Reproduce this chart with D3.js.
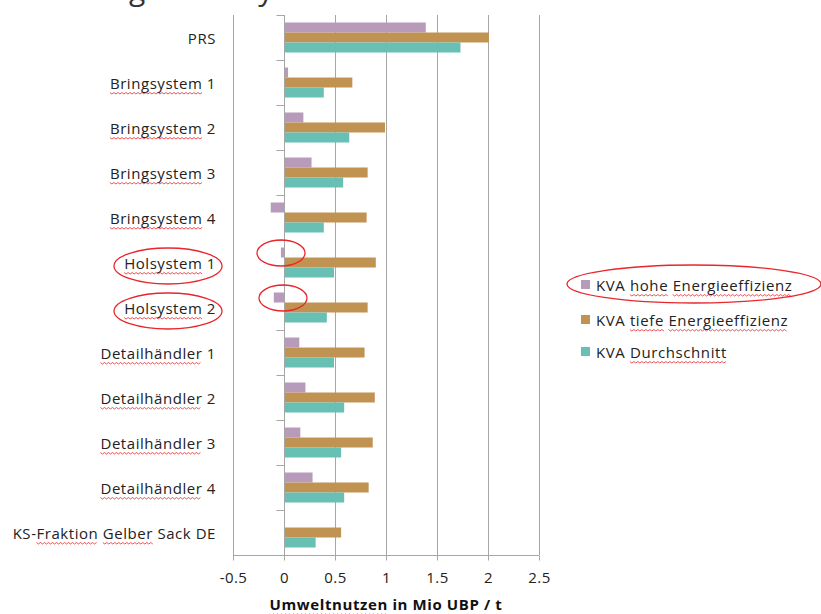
<!DOCTYPE html>
<html>
<head>
<meta charset="utf-8">
<script src="https://cdn.jsdelivr.net/npm/d3@7"></script>
<style>
  html, body { margin: 0; padding: 0; background: #fff; }
  svg { display: block; }
  text { font-family: "Open Sans", "Lato", sans-serif; }
</style>
</head>
<body>
<svg id="chart" width="821" height="614"></svg>
<script>
const categories = ["PRS", "Bringsystem 1", "Bringsystem 2", "Bringsystem 3", "Bringsystem 4",
  "Holsystem 1", "Holsystem 2", "Detailhändler 1", "Detailhändler 2", "Detailhändler 3",
  "Detailhändler 4", "KS-Fraktion Gelber Sack DE"];
const seriesNames = ["KVA hohe Energieeffizienz", "KVA tiefe Energieeffizienz", "KVA Durchschnitt"];
const hoheValues = [1.39, 0.04, 0.19, 0.27, -0.13, -0.03, -0.10, 0.15, 0.21, 0.16, 0.28, 0.01];
const tiefeValues = [2.01, 0.67, 0.99, 0.82, 0.81, 0.90, 0.82, 0.79, 0.89, 0.87, 0.83, 0.56];
const durchschnittValues = [1.73, 0.39, 0.64, 0.58, 0.39, 0.49, 0.42, 0.49, 0.59, 0.56, 0.59, 0.31];
const xTicks = [-0.5, 0, 0.5, 1, 1.5, 2, 2.5];
const xTickLabels = ["-0.5", "0", "0.5", "1", "1.5", "2", "2.5"];
const axisTitle = "Umweltnutzen in Mio UBP / t";
const chartTitle = "Sammlung im Holsystem";
const colors = ["#b89bbb", "#c09352", "#67c0b3"];

(function () {
const seriesValues = [hoheValues, tiefeValues, durchschnittValues];
const svg = d3.select("#chart");

const pLeft = 233, pRight = 539, pTop = 15, pBottom = 555;
const x = d3.scaleLinear().domain([-0.5, 2.5]).range([pLeft, pRight]);
const y0 = d3.scaleBand().domain(categories).range([pTop, pBottom]);
const y1 = d3.scaleBand().domain(seriesNames).range([7.5, 37.5]);

// title (cut off at top, as in the reference)
svg.append("text").attr("x", -4).attr("y", 0).attr("font-size", 30)
  .attr("fill", "#333").text(chartTitle);

// gridlines
const grid = svg.append("g");
grid.selectAll("line").data(xTicks.filter(d => d !== 0)).join("line")
  .attr("x1", d => Math.round(x(d)) + 0.5).attr("x2", d => Math.round(x(d)) + 0.5)
  .attr("y1", pTop).attr("y2", pBottom)
  .attr("stroke", "#a6a6a6").attr("stroke-width", 1);

// bars
const groups = svg.append("g").selectAll("g").data(categories).join("g")
  .attr("transform", d => `translate(0,${y0(d)})`);
groups.selectAll("rect").data((c, i) => seriesNames.map((s, k) => ({ s, k, v: seriesValues[k][i] })))
  .join("rect")
  .attr("x", d => x(Math.min(0, d.v)))
  .attr("width", d => Math.abs(x(d.v) - x(0)))
  .attr("y", d => y1(d.s))
  .attr("height", y1.bandwidth())
  .attr("fill", d => colors[d.k]);

// x axis
const xAxis = d3.axisBottom(x).tickValues(xTicks).tickSize(5)
  .tickFormat((d, i) => xTickLabels[i]);
const gx = svg.append("g").attr("transform", `translate(0,${pBottom + 0.5})`).call(xAxis);
gx.select(".domain").attr("stroke", "#a6a6a6").attr("d", `M${pLeft},0H${pRight}`);
gx.selectAll(".tick line").attr("stroke", "#a6a6a6");
gx.selectAll(".tick text").attr("font-size", 15).attr("fill", "#222").attr("y", 17).attr("dy", "0.71em")
  .attr("letter-spacing", 0.4)
  .style("font-family", "'Open Sans', sans-serif");

// category axis at zero
const yAxisScale = d3.scaleLinear().domain([0, categories.length]).range([pTop, pBottom]);
const yAxis = d3.axisLeft(yAxisScale).tickValues(d3.range(0, categories.length + 1)).tickSize(8).tickFormat("");
const gy = svg.append("g").attr("transform", `translate(${Math.round(x(0)) + 0.5},0)`).call(yAxis);
gy.select(".domain").attr("stroke", "#a6a6a6").attr("d", `M0,${pTop}V${pBottom}`);
gy.selectAll(".tick line").attr("stroke", "#a6a6a6");

// category labels
const labels = svg.append("g").selectAll("text").data(categories).join("text")
  .attr("x", 216).attr("y", d => y0(d) + y0.bandwidth() / 2 + 6)
  .attr("text-anchor", "end").attr("font-size", 15).attr("letter-spacing", 0.55)
  .attr("fill", "#222")
  .text(d => d);

// axis title
const at = svg.append("text").attr("x", x(1)).attr("y", 610)
  .attr("text-anchor", "middle").attr("font-size", 15).attr("font-weight", "bold")
  .attr("letter-spacing", 0.6)
  .attr("fill", "#111").text(axisTitle);

// legend
const legY = [285, 320, 352];
const leg = svg.append("g").selectAll("g").data(seriesNames).join("g")
  .attr("transform", (d, i) => `translate(581,${legY[i]})`);
leg.append("rect").attr("x", 0).attr("y", -5).attr("width", 9).attr("height", 9)
  .attr("fill", (d, i) => colors[i]);
const legText = leg.append("text").attr("x", 15).attr("y", 5.5).attr("font-size", 15)
  .attr("letter-spacing", 0.6)
  .attr("fill", "#222").text(d => d);

// red squiggle underlines (spell check marks)
function squiggle(textNode, word) {
  const str = textNode.textContent;
  const idx = str.indexOf(word);
  if (idx < 0) return;
  const start = textNode.getStartPositionOfChar(idx);
  const end = textNode.getEndPositionOfChar(idx + word.length - 1);
  const ctm = textNode.getCTM();
  const bx = start.x + ctm.e, by = start.y + ctm.f + 4;
  const ex = end.x + ctm.e;
  const pts = [];
  for (let px = bx, k = 0; px <= ex; px += 2, k++) pts.push([px, by + (k % 2 ? 1.5 : 0)]);
  svg.append("path").attr("d", d3.line()(pts)).attr("fill", "none")
    .attr("stroke", "#e8262b").attr("stroke-width", 0.8);
}
labels.each(function (d) {
  ["Bringsystem", "Holsystem", "Detailhändler", "Fraktion", "Gelber"].forEach(w => {
    if (d.includes(w)) squiggle(this, w);
  });
});
legText.each(function (d) {
  ["hohe", "tiefe", "Energieeffizienz", "Durchschnitt"].forEach(w => {
    if (d.includes(w)) squiggle(this, w);
  });
});
squiggle(at.node(), "Umweltnutzen");

// red annotation ellipses
const ellipses = [
  { cx: 168, cy: 266, rx: 54, ry: 18 },
  { cx: 168, cy: 311, rx: 54, ry: 18 },
  { cx: 281, cy: 253, rx: 24, ry: 13 },
  { cx: 283, cy: 298, rx: 24, ry: 13 },
  { cx: 694, cy: 284, rx: 127, ry: 19 }
];
svg.append("g").selectAll("ellipse").data(ellipses).join("ellipse")
  .attr("cx", d => d.cx).attr("cy", d => d.cy).attr("rx", d => d.rx).attr("ry", d => d.ry)
  .attr("fill", "none").attr("stroke", "#e8262b").attr("stroke-width", 1.3);
})();
</script>
</body>
</html>
